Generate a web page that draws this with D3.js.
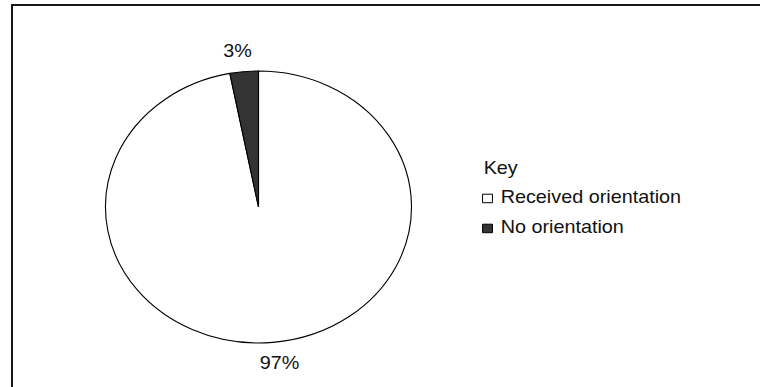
<!DOCTYPE html>
<html>
<head>
<meta charset="utf-8">
<script src="https://cdn.jsdelivr.net/npm/d3@7/dist/d3.min.js"></script>
<style>
  html, body { margin: 0; padding: 0; background: #fff; }
  svg { display: block; }
  text { font-family: "Liberation Sans", Arial, sans-serif; fill: #111; }
</style>
</head>
<body>
<svg id="chart" width="760" height="387"></svg>
<script>
// Orientation survey: share of respondents
const categories = ["Received orientation", "No orientation"];
const values = [97, 3];
const fills = ["#ffffff", "#333333"];
const legendTitle = "Key";

const width = 760, height = 387;
const svg = d3.select("#chart");

// frame (top and left edges visible)
svg.append("rect")
  .attr("x", 12).attr("y", 5)
  .attr("width", 900).attr("height", 600)
  .attr("fill", "none")
  .attr("stroke", "#000")
  .attr("stroke-width", 1.8);

// pie geometry: circle drawn then widened horizontally
const cx = 258.5, cy = 207, r = 136, sx = 1.125;
const textSx = 1.1;

const pie = d3.pie().sort(null).value(d => d)(values);
const arc = d3.arc().innerRadius(0).outerRadius(r);

const pieG = svg.append("g")
  .attr("transform", `translate(${cx},${cy}) scale(${sx},1)`);

pieG.selectAll("path.slice")
  .data(pie)
  .join("path")
  .attr("class", "slice")
  .attr("d", arc)
  .attr("fill", (d, i) => fills[i])
  .attr("stroke", "#000")
  .attr("stroke-width", 1.1)
  .attr("vector-effect", "non-scaling-stroke");

// percentage labels outside each slice
const labelRx = 198, labelRy = 156.5;
svg.selectAll("text.pct")
  .data(pie)
  .join("text")
  .attr("class", "pct")
  .attr("text-anchor", "middle")
  .attr("font-size", 18)
  .attr("transform", d => {
    const mid = (d.startAngle + d.endAngle) / 2;
    const x = cx + sx * labelRx * Math.sin(mid);
    const y = cy - labelRy * Math.cos(mid);
    return `translate(${x},${y}) scale(${textSx},1)`;
  })
  .attr("dy", "0.35em")
  .text(d => d.value + "%");

// legend
const legend = svg.append("g")
  .attr("transform", `translate(482,0) scale(${textSx},1)`);

legend.append("text")
  .attr("x", 1.5).attr("y", 174)
  .attr("font-size", 18)
  .text(legendTitle);

const rowY = d3.scalePoint().domain(categories).range([202.7, 232.7]);

const items = legend.selectAll("g.item")
  .data(categories)
  .join("g")
  .attr("class", "item")
  .attr("transform", d => `translate(0,${rowY(d)})`);

items.append("rect")
  .attr("x", 0.5).attr("y", -8.5)
  .attr("width", 9).attr("height", 8.5)
  .attr("fill", (d, i) => fills[i])
  .attr("stroke", "#000")
  .attr("stroke-width", 1)
  .attr("vector-effect", "non-scaling-stroke");

items.append("text")
  .attr("x", 17).attr("y", 0)
  .attr("font-size", 18)
  .text(d => d);
</script>
</body>
</html>
